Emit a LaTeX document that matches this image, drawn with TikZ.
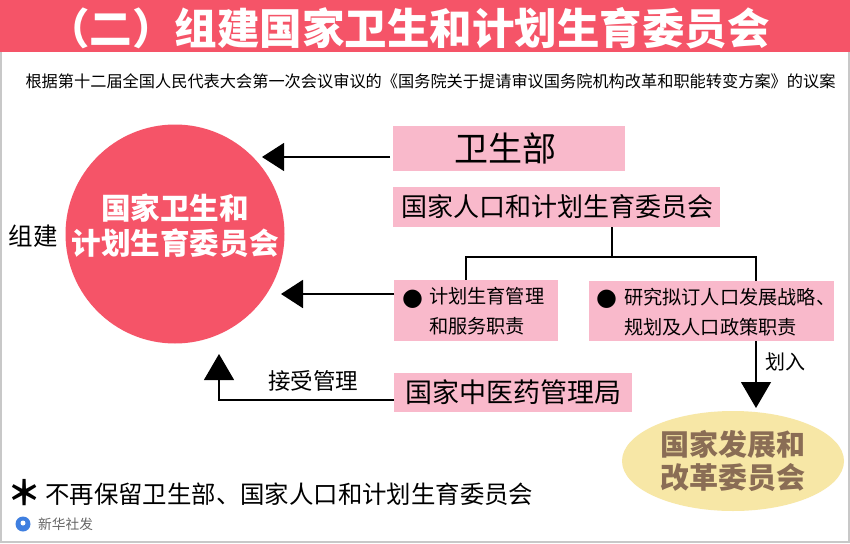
\documentclass[tikz,border=0pt]{standalone}
\usepackage{fontspec}
\setmainfont{Noto Sans CJK SC}
\newfontfamily\symfont{DejaVu Sans}
\usetikzlibrary{arrows.meta,shapes.geometric}
\definecolor{band}{HTML}{F55468}
\definecolor{boxpink}{HTML}{F9B9CB}
\definecolor{oval}{HTML}{F7E7A6}
\definecolor{ovaltext}{HTML}{8A6D55}
\definecolor{frameg}{HTML}{C8C8C8}
\definecolor{logoblue}{HTML}{3F7FE0}
\newcommand{\fs}[2]{\fontsize{#1pt}{#2pt}\selectfont}
\newcommand{\bul}[1]{\makebox[#1][l]{\hspace*{-2pt}\symfont\fontsize{24pt}{30pt}\selectfont\raisebox{-1.5pt}{●}}}
\tikzset{
  pinkbox/.style={fill=boxpink,draw=none,inner sep=0pt,anchor=center,text=black},
  lbl/.style={inner sep=0pt,text=black},
  conn/.style={draw=black,line width=1.2pt},
  thick conn/.style={draw=black,line width=2pt},
  bigleft/.style={-{Triangle[length=22pt,width=28pt]}},
  bigup/.style={-{Triangle[length=26pt,width=30pt]}},
  wire/.style={draw=black,line width=1.2pt},
}
\begin{document}
\begin{tikzpicture}[x=1pt,y=-1pt]
\useasboundingbox (0,0) rectangle (850,543);
\fill[white] (0,0) rectangle (850,543);
\draw[frameg,line width=1.2pt] (1,0) -- (1,542) -- (849,542) -- (849,0);
\fill[band] (0,0) rectangle (850,52);
\node[lbl,text=white] (title) at (408.5,28) {\fs{42.5}{48}\bfseries （二）组建国家卫生和计划生育委员会};
\node[lbl] (sub) at (430.5,81) {\fs{16.2}{20}根据第十二届全国人民代表大会第一次会议审议的《国务院关于提请审议国务院机构改革和职能转变方案》的议案};

\node[circle,fill=band,minimum size=219pt,inner sep=-8pt,align=center,text=white,font=\fs{29.6}{35}\bfseries] (nw) at (175,234)
  {国家卫生和\\ 计划生育委员会\\[-15pt]\mbox{}};
\node[lbl] (zj) at (33.5,236) {\fs{24.5}{28}组建};

\node[pinkbox,minimum width=232pt,minimum height=45pt] (wsb) at (509,148.5) {\fs{34}{40}\hspace*{-8pt}卫生部};
\node[pinkbox,minimum width=327pt,minimum height=40pt] (rk) at (556.5,207) {\fs{26}{30}\hspace*{2pt}国家人口和计划生育委员会};
\node[pinkbox,minimum height=61pt,inner xsep=10pt,text width=144pt,align=left,font=\fs{19.2}{30}] (jh) at (476,310.5)
  {\rule{0pt}{18pt}\bul{25pt}计划生育管理\\ \hspace*{25pt}和服务职责};
\node[pinkbox,minimum height=60pt,inner xsep=9pt,text width=227pt,align=left,font=\fs{19.2}{30}] (yj) at (711.5,311)
  {\rule{0pt}{18pt}\bul{26pt}研究拟订人口发展战略、\\ \hspace*{26pt}规划及人口政策职责};
\node[pinkbox,minimum width=238pt,minimum height=39pt] (zy) at (513,392.5) {\fs{27}{32}国家中医药管理局};
\node[lbl] (js) at (313,381) {\fs{22.5}{26}接受管理};
\node[lbl] (hr) at (785,362) {\fs{20}{24}划入};

\node[ellipse,fill=oval,minimum width=222pt,minimum height=100pt,inner sep=0pt,align=center,text=ovaltext,font=\fs{29}{33}\bfseries] (fg) at (733,461)
  {\rule{0pt}{26pt}国家发展和\\ 改革委员会};

\node[lbl] (star) at (24,493) {\fs{34}{40}\bfseries ＊};
\node[lbl,anchor=west] (note) at (45,494) {\fs{24.4}{28}不再保留卫生部、国家人口和计划生育委员会};
\node[circle,fill=logoblue,minimum size=15pt,inner sep=0pt] (logo) at (23,524) {};
\node[circle,fill=white,minimum size=5pt,inner sep=0pt] (logodot) at (23,523) {};
\node[lbl,anchor=west,text=black!60] (xh) at (38,524) {\fs{13.7}{16}新华社发};

\coordinate (t1) at (262,157);
\coordinate (s1) at (390,157);
\coordinate (t2) at (281,294);
\coordinate (s2) at (394,294);
\coordinate (t3) at (219,354);
\coordinate (s3) at (394,400);
\coordinate (c3) at (219,400);
\coordinate (j0) at (612,227);
\coordinate (j1) at (612,257);
\coordinate (jl) at (466,257);
\coordinate (jr) at (756,257);
\coordinate (s4) at (756,341);
\coordinate (t4) at (756,408);

\draw[conn,bigleft] (s1) -- (t1);
\draw[thick conn,bigleft] (s2) -- (t2);
\draw[conn,bigup] (s3) -- (c3) -- (t3);
\draw[wire] (j0) -- (j1);
\draw[wire] (jl|-jh.north) -- (jl) -- (jr) -- (jr|-yj.north);
\draw[conn,bigup] (s4) -- (t4);
\end{tikzpicture}
\end{document}
